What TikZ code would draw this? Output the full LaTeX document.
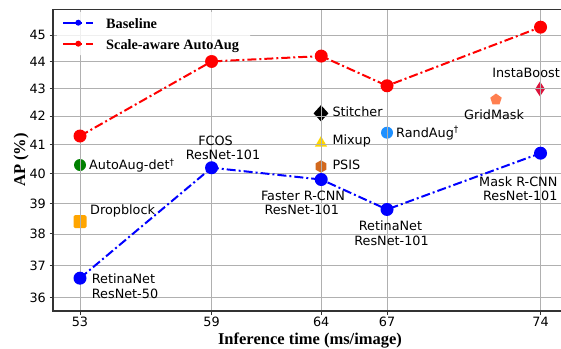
\documentclass[tikz,border=0pt]{standalone}
\usepackage{fontspec}
\newfontfamily\dejavu{DejaVu Sans}
\newfontfamily\serifx{Liberation Serif}
\usetikzlibrary{shapes.geometric}
\definecolor{gridc}{HTML}{B0B0B0}
\definecolor{spinec}{HTML}{333333}
\definecolor{mblue}{HTML}{0000FF}
\definecolor{mred}{HTML}{FF0000}
\definecolor{mgreen}{HTML}{008000}
\definecolor{morange}{HTML}{FFA500}
\definecolor{mgold}{HTML}{FFD700}
\definecolor{mchoc}{HTML}{D2691E}
\definecolor{mdodger}{HTML}{1E90FF}
\definecolor{mcoral}{HTML}{FF7F50}
\definecolor{mcrimson}{HTML}{DC143C}
\begin{document}
\begin{tikzpicture}[x=1pt,y=-1pt,
  declare function={X(\t)=80+(\t-53)*21.93; Y(\v)=35+1177*(ln(45)-ln(\v));},
  ticklbl/.style={font=\dejavu\fontsize{12.8}{14}\selectfont, inner sep=0pt, text height=9.3pt, text depth=0pt},
  lbl/.style={ticklbl},
  legtxt/.style={font=\serifx\bfseries\fontsize{14.3}{16}\selectfont, inner sep=0pt, text height=9.5pt, text depth=0pt, anchor=west},
  axlbl/.style={font=\serifx\bfseries\fontsize{16.5}{18}\selectfont, inner sep=0pt, text height=10.9pt, text depth=0pt},
  gridln/.style={draw=gridc, line width=0.9pt},
  spine/.style={draw=spinec, line width=1.3pt},
  tickmk/.style={draw=spinec, line width=1pt},
  dashdot/.style={line width=2pt, dash pattern=on 9pt off 3pt on 2pt off 3pt},
  mk/.style={circle, minimum size=13pt, inner sep=0pt},
  legmk/.style={circle, minimum size=6pt, inner sep=0pt},
  scat/.style={inner sep=0pt}
]
\useasboundingbox (0,0) rectangle (561,348);

% scatter markers (below grid)
\node[scat, circle, fill=mgreen, minimum size=12pt] (autoaug) at (80,165) {};
\node[scat, rectangle, rounded corners=1.5pt, fill=morange, minimum size=13pt] (dropblock) at (80,221.7) {};
\node[scat, diamond, fill=black, minimum width=15pt, minimum height=16.5pt] (stitcher) at (321,113.3) {};
\node[scat, regular polygon, regular polygon sides=3, fill=mgold, minimum size=14pt] (mixup) at (321,143) {};
\node[scat, regular polygon, regular polygon sides=6, shape border rotate=30, fill=mchoc, minimum size=12.5pt] (psis) at (321,166.5) {};
\node[scat, circle, fill=mdodger, minimum size=12pt] (randaug) at (387,132.7) {};
\node[scat, regular polygon, regular polygon sides=5, fill=mcoral, minimum size=12pt] (gridmask) at (496,99.5) {};
\node[scat, diamond, fill=mcrimson, minimum width=10pt, minimum height=15pt] (instaboost) at (540,89) {};

% grid
\foreach \t in {53,59,64,67,74} {
  \draw[gridln] ({X(\t)},9.3) -- ({X(\t)},311);
}
\foreach \v in {36,...,45} {
  \draw[gridln] (53,{Y(\v)}) -- (567,{Y(\v)});
}

% data coordinates
\coordinate (b1) at ({X(53)},{Y(36.6)});
\coordinate (b2) at ({X(59)},{Y(40.2)});
\coordinate (b3) at ({X(64)},{Y(39.8)});
\coordinate (b4) at ({X(67)},{Y(38.8)});
\coordinate (b5) at ({X(74)},{Y(40.7)});
\coordinate (r1) at ({X(53)},{Y(41.3)});
\coordinate (r2) at ({X(59)},{Y(44.0)});
\coordinate (r3) at ({X(64)},{Y(44.2)});
\coordinate (r4) at ({X(67)},{Y(43.1)});
\coordinate (r5) at ({X(74)},{Y(45.3)});

\draw[dashdot, mblue] (b1) -- (b2) -- (b3) -- (b4) -- (b5);
\draw[dashdot, mred] (r1) -- (r2) -- (r3) -- (r4) -- (r5);
\foreach \p in {b1,b2,b3,b4,b5} { \node[mk, fill=mblue] (\p m) at (\p) {}; }
\foreach \p in {r1,r2,r3,r4,r5} { \node[mk, fill=mred] (\p m) at (\p) {}; }

% labels
\node[lbl, anchor=west] (tautoaug) at (89,165) {AutoAug-det\textsuperscript{†}};
\node[lbl, anchor=west] (tdrop) at (90,210) {Dropblock};
\node[lbl, anchor=west] (tret50a) at (91.7,279.3) {RetinaNet};
\node[lbl, anchor=west] (tret50b) at (91.7,294) {ResNet-50};
\node[lbl] (tfcosa) at (215.5,140.7) {FCOS};
\node[lbl] (tfcosb) at (223,155) {ResNet-101};
\node[lbl] (tfastera) at (303,196) {Faster R-CNN};
\node[lbl] (tfasterb) at (301.7,209.6) {ResNet-101};
\node[lbl] (tret101a) at (390.5,226) {RetinaNet};
\node[lbl] (tret101b) at (391.5,240.7) {ResNet-101};
\node[lbl] (tmaska) at (518.3,181.7) {Mask R-CNN};
\node[lbl] (tmaskb) at (520.3,196) {ResNet-101};
\node[lbl, anchor=west] (tstitch) at (332.3,112.3) {Stitcher};
\node[lbl, anchor=west] (tmixup) at (332.3,140.3) {Mixup};
\node[lbl, anchor=west] (tpsis) at (332.3,165) {PSIS};
\node[lbl, anchor=west] (trand) at (396,132.7) {RandAug\textsuperscript{†}};
\node[lbl, anchor=west] (tgrid) at (464,115) {GridMask};
\node[lbl, anchor=east] (tinsta) at (560,73.3) {InstaBoost};

% legend
\node[fill=white, fill opacity=0.8, inner sep=0pt, minimum width=193pt, minimum height=43pt, rounded corners=2pt] (legbox) at (153.5,33.5) {};
\coordinate (lb1) at (63.3,22.7);
\coordinate (lb2) at (93.3,22.7);
\coordinate (lr1) at (63.3,43.7);
\coordinate (lr2) at (93.3,43.7);
\draw[mblue, line width=2pt, dash pattern=on 13pt off 4pt on 2pt off 4pt] (lb1) -- (lb2);
\draw[mred, line width=2pt, dash pattern=on 13pt off 4pt on 2pt off 4pt] (lr1) -- (lr2);
\node[legmk, fill=mblue] (lbm) at (78.3,22.7) {};
\node[legmk, fill=mred] (lrm) at (78.3,43.7) {};
\node[legtxt] (lbt) at (106,23.3) {Baseline};
\node[legtxt] (lrt) at (106,44.3) {Scale-aware AutoAug};

% spines and ticks
\draw[spine] (53,9.3) -- (53,311) -- (567,311);
\draw[spine] (53,9.3) -- (567,9.3);
\foreach \v in {36,...,45} {
  \draw[tickmk] (49.5,{Y(\v)}) -- (53,{Y(\v)});
  \node[ticklbl, anchor=east] (yt\v) at (46,{Y(\v)}) {\v};
}
\foreach \t in {53,59,64,67,74} {
  \draw[tickmk] ({X(\t)},311) -- ({X(\t)},314.5);
  \node[ticklbl] (xt\t) at ({X(\t)},321.7) {\t};
}

% axis labels
\node[axlbl] (xlabel) at (310,339.3) {Inference time (ms/image)};
\node[axlbl, rotate=90] (ylabel) at (19.7,160) {AP (\%)};
\end{tikzpicture}
\end{document}
